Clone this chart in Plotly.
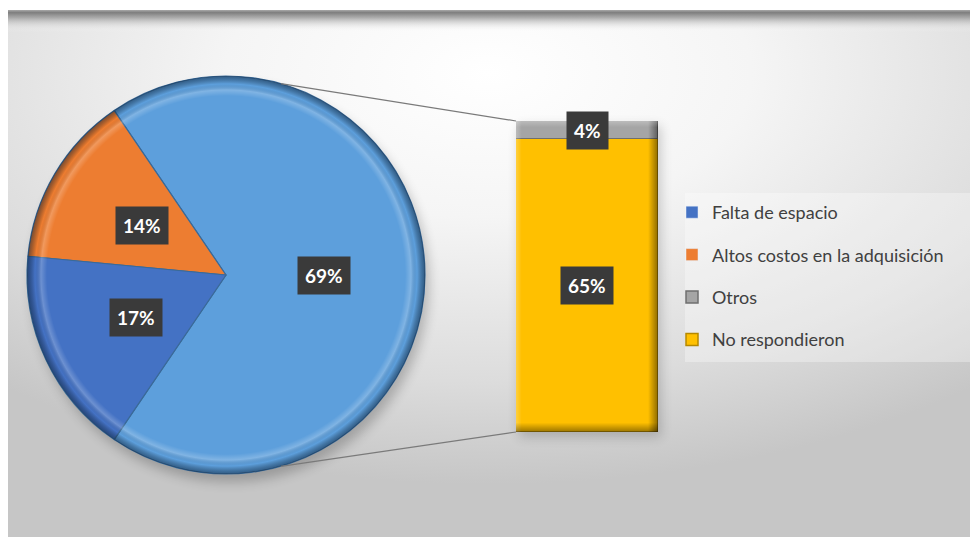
import base64
import math
import plotly.graph_objects as go

# ---- data -------------------------------------------------------------
pie_labels = ["Falta de espacio", "Altos costos en la adquisición"]
pie_values = [17, 14]                      # percent
bar_labels = ["Otros", "No respondieron"]
bar_values = [4, 65]                       # percent, split of the grouped slice
grouped_label = "Otros y no respondieron"

pie_colors = ["#4472C4", "#ED7D31"]
grouped_color = "#5D9FDC"
bar_colors = ["#A5A5A5", "#FFC000"]
bar_edges = ["#6f6f6f", "#b58800"]

# ---- geometry (pixels) ------------------------------------------------
W, H = 970, 537
CX, CY, R = 226, 275, 199                  # pie centre and radius
BAR_X0, BAR_X1 = 516, 658                  # bar column
BAR_TOP, BAR_BOT = 121, 432

def px(x):
    return x / W

def py(y):
    return 1 - y / H

grouped_value = sum(bar_values)
# slices in plotting order: grouped slice first, centred on the right
slice_labels = [grouped_label, pie_labels[1], pie_labels[0]]
slice_values = [grouped_value, pie_values[1], pie_values[0]]
slice_colors = [grouped_color, pie_colors[1], pie_colors[0]]
total = sum(slice_values)
start_deg = -grouped_value / total * 180   # math angle where grouped slice begins

fig = go.Figure()

fig.add_trace(go.Pie(
    labels=slice_labels,
    values=slice_values,
    sort=False,
    direction="counterclockwise",
    rotation=90 + start_deg,
    marker=dict(colors=slice_colors, line=dict(color="#3a6a99", width=1.2)),
    textinfo="none",
    hoverinfo="label+percent",
    showlegend=False,
    domain=dict(x=[px(CX - R), px(CX + R)], y=[py(CY + R), py(CY - R)]),
))

# legend-only entries for the two pie categories
for name, col in zip(pie_labels, pie_colors):
    fig.add_trace(go.Bar(
        x=[None], y=[None], name=name, marker_color=col,
        xaxis="x2", yaxis="y2", legendgroup=name, showlegend=True,
    ))

# stacked bar breaking down the grouped slice (bottom segment first)
for name, val, col, edge in reversed(list(zip(bar_labels, bar_values, bar_colors, bar_edges))):
    fig.add_trace(go.Bar(
        x=[0], y=[val], width=[1], name=name,
        marker=dict(color=col, line=dict(color=edge, width=1.5)),
        xaxis="x2", yaxis="y2", legendgroup=name,
        legendrank=1000 + bar_labels.index(name),
        hoverinfo="name+y",
    ))

# ---- value labels -----------------------------------------------------
label_style = dict(
    showarrow=False, bgcolor="#3a3a3a", borderpad=7,
    xanchor="center", yanchor="middle",
    font=dict(family="Lato, 'Noto Sans', sans-serif", size=19, color="white"),
)
annotations = []
acc = start_deg
label_radius = [0.49, 0.49, 0.5]
for val, rad in zip(slice_values, label_radius):
    mid = math.radians(acc + val / total * 180)
    acc += val / total * 360
    x = CX + rad * R * math.cos(mid)
    y = CY - rad * R * math.sin(mid)
    annotations.append(dict(x=px(x), y=py(y), xref="paper", yref="paper",
                            text=f"<b>{val}%</b>", **label_style))

base = 0
for val in reversed(bar_values):
    annotations.append(dict(x=0, y=base + val / 2, xref="x2", yref="y2",
                            text=f"<b>{val}%</b>", **label_style))
    base += val

# ---- connector lines from the pie to the bar ----------------------------
shapes = []
for ang, by in ((74, BAR_TOP), (-74, BAR_BOT)):
    a = math.radians(ang)
    shapes.append(dict(
        type="line", xref="paper", yref="paper",
        x0=px(CX + R * math.cos(a)), y0=py(CY - R * math.sin(a)),
        x1=px(BAR_X0), y1=py(by),
        line=dict(color="#7a7a7a", width=1.2),
    ))

# faint panel behind the legend
shapes.append(dict(
    type="rect", xref="paper", yref="paper", layer="below",
    x0=px(685), x1=1, y0=py(362), y1=py(193),
    fillcolor="rgba(255,255,255,0.32)", line=dict(width=0),
))

# ---- backdrop: soft radial gradient panel with a shaded top edge ----------
PW, PH = 962, 527
bg_svg = f"""<svg xmlns="http://www.w3.org/2000/svg" width="{PW}" height="{PH}" viewBox="0 0 {PW} {PH}">
<defs>
<radialGradient id="g" cx="0.5" cy="0.12" r="0.78">
<stop offset="0" stop-color="#ffffff"/>
<stop offset="0.35" stop-color="#f5f5f5"/>
<stop offset="0.75" stop-color="#dcdcdc"/>
<stop offset="1" stop-color="#c6c6c6"/>
</radialGradient>
<linearGradient id="t" x1="0" y1="0" x2="0" y2="1">
<stop offset="0" stop-color="#a9a9a9"/>
<stop offset="0.12" stop-color="#7e7e7e"/>
<stop offset="0.35" stop-color="#9a9a9a" stop-opacity="0.8"/>
<stop offset="1" stop-color="#ffffff" stop-opacity="0"/>
</linearGradient>
<filter id="b" x="-20%" y="-20%" width="140%" height="140%"><feGaussianBlur stdDeviation="6"/></filter>
</defs>
<rect width="{PW}" height="{PH}" fill="url(#g)"/>
<rect width="{PW}" height="22" fill="url(#t)"/>
<ellipse cx="{CX - 8 + 4}" cy="{CY - 10 + 8}" rx="{R}" ry="{R}" fill="#000" opacity="0.22" filter="url(#b)"/>
<rect x="{BAR_X0 - 8 + 3}" y="{BAR_TOP - 10 + 5}" width="{BAR_X1 - BAR_X0}" height="{BAR_BOT - BAR_TOP}" fill="#000" opacity="0.18" filter="url(#b)"/>
</svg>"""

# bevel rim drawn over the pie
rim_svg = f"""<svg xmlns="http://www.w3.org/2000/svg" width="{2*R}" height="{2*R}" viewBox="0 0 {2*R} {2*R}">
<defs>
<radialGradient id="r" cx="0.5" cy="0.5" r="0.5">
<stop offset="0.9" stop-color="#ffffff" stop-opacity="0"/>
<stop offset="0.93" stop-color="#ffffff" stop-opacity="0.22"/>
<stop offset="0.96" stop-color="#000000" stop-opacity="0"/>
<stop offset="1" stop-color="#0b2540" stop-opacity="0.55"/>
</radialGradient>
</defs>
<circle cx="{R}" cy="{R}" r="{R}" fill="url(#r)"/>
</svg>"""

# bevel edges drawn over the bar column
BW, BH = BAR_X1 - BAR_X0, BAR_BOT - BAR_TOP
bar_svg = f"""<svg xmlns="http://www.w3.org/2000/svg" width="{BW}" height="{BH}" viewBox="0 0 {BW} {BH}" preserveAspectRatio="none">
<defs>
<linearGradient id="h" x1="0" y1="0" x2="1" y2="0">
<stop offset="0" stop-color="#ffffff" stop-opacity="0.25"/>
<stop offset="0.04" stop-color="#ffffff" stop-opacity="0"/>
<stop offset="0.93" stop-color="#000000" stop-opacity="0"/>
<stop offset="1" stop-color="#000000" stop-opacity="0.45"/>
</linearGradient>
<linearGradient id="v" x1="0" y1="0" x2="0" y2="1">
<stop offset="0" stop-color="#ffffff" stop-opacity="0.25"/>
<stop offset="0.02" stop-color="#ffffff" stop-opacity="0"/>
<stop offset="0.97" stop-color="#000000" stop-opacity="0"/>
<stop offset="1" stop-color="#000000" stop-opacity="0.4"/>
</linearGradient>
</defs>
<rect width="{BW}" height="{BH}" fill="url(#h)"/>
<rect width="{BW}" height="{BH}" fill="url(#v)"/>
</svg>"""

def data_uri(svg):
    return "data:image/svg+xml;base64," + base64.b64encode(svg.encode()).decode()

images = [
    dict(source=data_uri(bg_svg), xref="paper", yref="paper",
         x=px(8), y=py(10), sizex=PW / W, sizey=PH / H,
         xanchor="left", yanchor="top", sizing="stretch", layer="below"),
    dict(source=data_uri(rim_svg), xref="paper", yref="paper",
         x=px(CX - R), y=py(CY - R), sizex=2 * R / W, sizey=2 * R / H,
         xanchor="left", yanchor="top", sizing="stretch", layer="above"),
    dict(source=data_uri(bar_svg), xref="paper", yref="paper",
         x=px(BAR_X0), y=py(BAR_TOP), sizex=BW / W, sizey=BH / H,
         xanchor="left", yanchor="top", sizing="stretch", layer="above"),
]

hidden_axis = dict(visible=False, showgrid=False, zeroline=False, fixedrange=True)
fig.update_layout(
    width=W, height=H,
    margin=dict(l=0, r=0, t=0, b=0),
    paper_bgcolor="white",
    plot_bgcolor="rgba(0,0,0,0)",
    barmode="stack",
    bargap=0,
    xaxis=dict(hidden_axis),
    yaxis=dict(hidden_axis),
    xaxis2=dict(hidden_axis, domain=[px(BAR_X0), px(BAR_X1)], range=[-0.5, 0.5], anchor="y2"),
    yaxis2=dict(hidden_axis, domain=[py(BAR_BOT), py(BAR_TOP)], range=[0, grouped_value], anchor="x2"),
    legend=dict(
        x=px(672), y=py(194), xanchor="left", yanchor="top",
        font=dict(family="Lato, 'Noto Sans', sans-serif", size=18, color="#404040"),
        bgcolor="rgba(0,0,0,0)",
        traceorder="grouped", tracegroupgap=16,
        itemclick=False, itemdoubleclick=False,
    ),
    annotations=annotations,
    shapes=shapes,
    images=images,
)

fig.write_html("out.html")
